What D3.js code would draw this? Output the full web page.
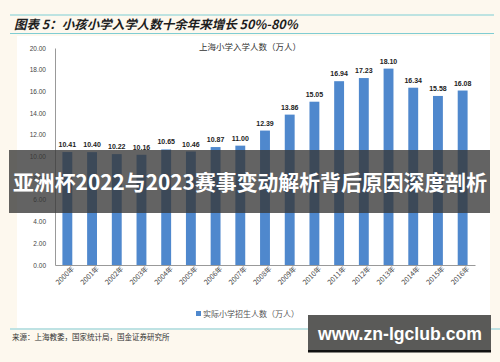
<!DOCTYPE html>
<html>
<head>
<meta charset="utf-8">
<script src="https://cdn.jsdelivr.net/npm/d3@7"></script>
<style>
  html, body { margin: 0; padding: 0; background: #fdf8ee; }
  svg { display: block; }
</style>
</head>
<body>
<div id="chart"></div>
<script>
const width = 500;
const height = 362;

// données
const years = ['2000年','2001年','2002年','2003年','2004年','2005年','2006年','2007年','2008年',
  '2009年','2010年','2011年','2012年','2013年','2014年','2015年','2016年'];
const enrolment = [10.41, 10.40, 10.22, 10.16, 10.65, 10.46, 10.87, 11.00, 12.39,
  13.86, 15.05, 16.94, 17.23, 18.10, 16.34, 15.58, 16.08];
const yTicks = [0, 2, 4, 6, 8, 10, 12, 14, 16, 18, 20];

const cjk = '"Noto Sans CJK SC", "Noto Sans", sans-serif';
const latin = '"Liberation Sans", Arial, sans-serif';

const svg = d3.select('#chart')
  .append('svg')
  .attr('width', width)
  .attr('height', height);

// fond
svg.append('rect').attr('width', width).attr('height', height).attr('fill', '#fdf8ee');
svg.append('rect')
  .attr('x', 17).attr('y', 36).attr('width', 473).attr('height', 292)
  .attr('fill', '#ffffff');

// titre
svg.append('line').attr('x1', 10).attr('x2', 494).attr('y1', 15).attr('y2', 15)
  .attr('stroke', '#7fcdd3').attr('stroke-width', 1.2);
svg.append('line').attr('x1', 10).attr('x2', 494).attr('y1', 33.5).attr('y2', 33.5)
  .attr('stroke', '#7fcdd3').attr('stroke-width', 1.2);
svg.append('text')
  .attr('x', 14).attr('y', 29)
  .attr('font-family', cjk).attr('font-size', 12.5).attr('font-weight', 'bold')
  .attr('font-style', 'italic').attr('fill', '#1e1e1e')
  .text('图表 5：小孩小学入学人数十余年来增长 50%-80%');

const margin = { left: 55, right: 25, top: 48, bottom: 97 };

const x = d3.scaleBand()
  .domain(years)
  .range([margin.left, width - margin.right])
  .paddingInner(0.6)
  .paddingOuter(0.3);

const y = d3.scaleLinear()
  .domain([0, 20])
  .range([height - margin.bottom, margin.top]);

// sous-titre
svg.append('text')
  .attr('x', 250).attr('y', 50)
  .attr('text-anchor', 'middle')
  .attr('font-family', cjk).attr('font-size', 8.5).attr('fill', '#333')
  .text('上海小学入学人数（万人）');

// axe Y
const yAxis = svg.append('g')
  .attr('transform', `translate(${margin.left},0)`)
  .call(d3.axisLeft(y).tickValues(yTicks).tickSize(0).tickPadding(9)
    .tickFormat(d3.format('.2f')));
yAxis.select('.domain').attr('stroke', '#999');
yAxis.selectAll('text')
  .attr('font-family', latin).attr('font-size', 6.5).attr('fill', '#444');

// axe X
const xAxis = svg.append('g')
  .attr('transform', `translate(0,${y(0)})`)
  .call(d3.axisBottom(x).tickSize(0).tickPadding(4));
xAxis.select('.domain').attr('stroke', '#999');
xAxis.selectAll('text')
  .attr('font-family', cjk).attr('font-size', 7).attr('fill', '#444')
  .attr('text-anchor', 'end')
  .attr('dx', '0.3em').attr('dy', '0.6em')
  .attr('transform', 'rotate(-45)');

// barres
svg.append('g')
  .selectAll('rect')
  .data(enrolment)
  .enter()
  .append('rect')
  .attr('x', (d, i) => x(years[i]))
  .attr('y', d => y(d))
  .attr('width', x.bandwidth())
  .attr('height', d => y(0) - y(d))
  .attr('fill', '#4f88cd');

// étiquettes
svg.append('g')
  .selectAll('text')
  .data(enrolment)
  .enter()
  .append('text')
  .attr('x', (d, i) => x(years[i]) + x.bandwidth() / 2)
  .attr('y', d => y(d) - 5)
  .attr('text-anchor', 'middle')
  .attr('font-family', latin).attr('font-size', 7).attr('font-weight', 'bold')
  .attr('fill', '#222')
  .text(d => d.toFixed(2));

// légende
svg.append('rect').attr('x', 196).attr('y', 311).attr('width', 5).attr('height', 5)
  .attr('fill', '#4f88cd');
svg.append('text')
  .attr('x', 203).attr('y', 317)
  .attr('font-family', cjk).attr('font-size', 8).attr('fill', '#555')
  .text('实际小学招生人数（万人）');

// source
svg.append('line').attr('x1', 10).attr('x2', 500).attr('y1', 329).attr('y2', 329)
  .attr('stroke', '#a9dbdf').attr('stroke-width', 1.5);
svg.append('text')
  .attr('x', 12).attr('y', 340)
  .attr('font-family', cjk).attr('font-size', 7.5).attr('fill', '#333')
  .text('来源：上海教委，国家统计局，国金证券研究所');

// bandeau
svg.append('rect')
  .attr('x', 9).attr('y', 150).attr('width', 481).attr('height', 63)
  .attr('fill', 'rgba(55,55,55,0.78)');
svg.append('text')
  .attr('x', 250).attr('y', 190)
  .attr('text-anchor', 'middle')
  .attr('font-family', cjk).attr('font-size', 21).attr('font-weight', 'bold')
  .attr('fill', '#ffffff')
  .attr('textLength', 474).attr('lengthAdjust', 'spacingAndGlyphs')
  .text('亚洲杯2022与2023赛事变动解析背后原因深度剖析');

// filigrane
svg.append('rect')
  .attr('x', 308).attr('y', 315).attr('width', 183).attr('height', 37)
  .attr('fill', '#5a5a58');
svg.append('rect')
  .attr('x', 308).attr('y', 350).attr('width', 183).attr('height', 2.5)
  .attr('fill', '#111');
svg.append('text')
  .attr('x', 400).attr('y', 340)
  .attr('text-anchor', 'middle')
  .attr('font-family', latin).attr('font-size', 18.5).attr('font-weight', 'bold')
  .attr('fill', '#ffffff')
  .attr('textLength', 164).attr('lengthAdjust', 'spacingAndGlyphs')
  .text('www.zn-lgclub.com');
</script>
</body>
</html>
